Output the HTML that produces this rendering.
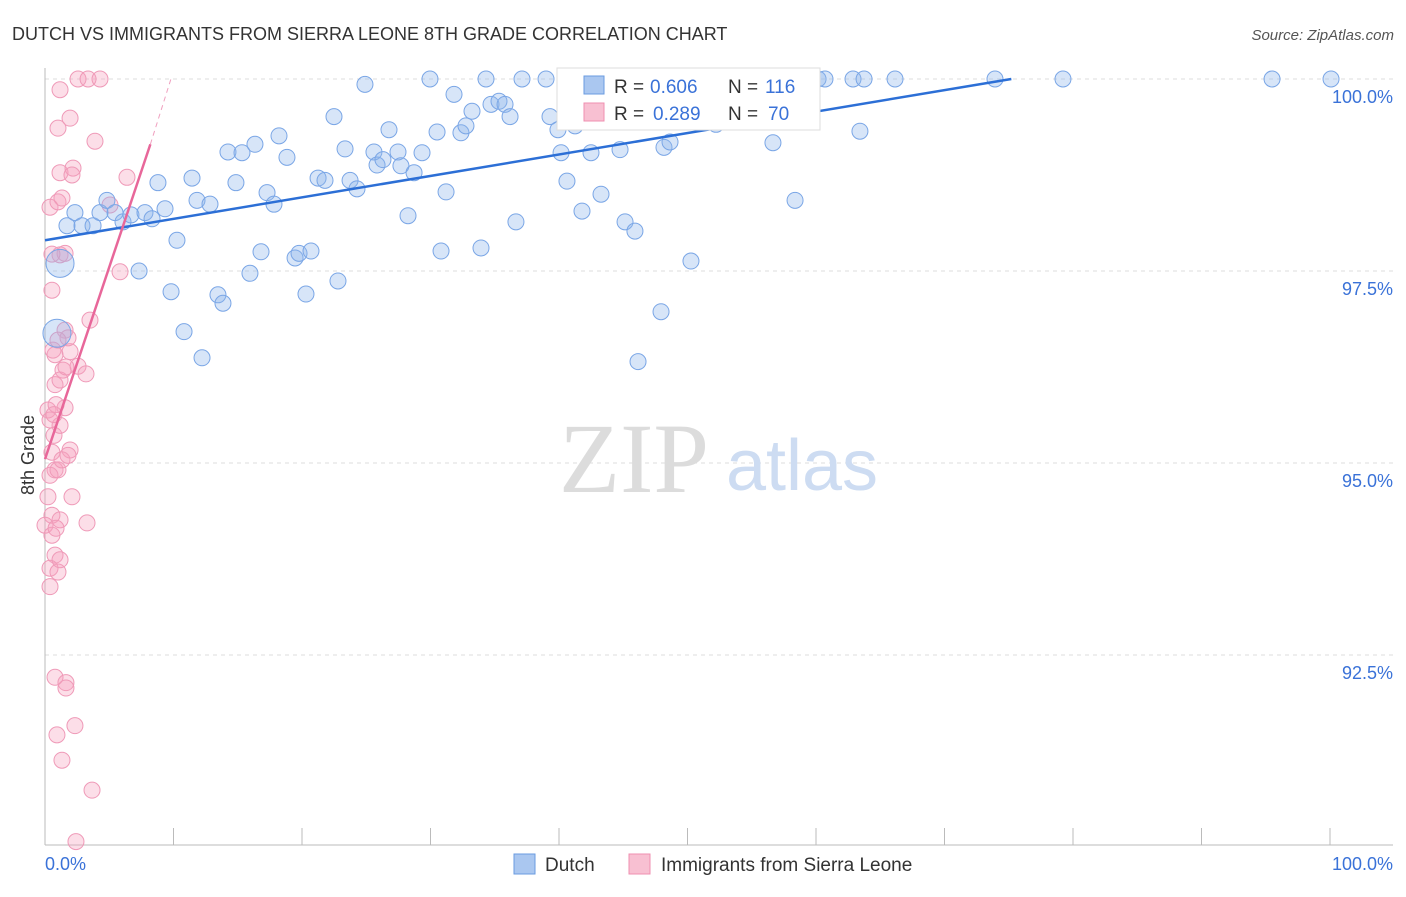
<!DOCTYPE html>
<html><head><meta charset="utf-8">
<style>
body{margin:0;background:#fff;font-family:"Liberation Sans",sans-serif;}
</style></head>
<body>
<svg id="chart" width="1406" height="892" viewBox="0 0 1406 892" xmlns="http://www.w3.org/2000/svg" font-family="Liberation Sans, sans-serif">
<text x="12" y="40" font-size="18" fill="#333">DUTCH VS IMMIGRANTS FROM SIERRA LEONE 8TH GRADE CORRELATION CHART</text>
<text x="1394" y="40" font-size="15" fill="#555" text-anchor="end" font-style="italic">Source: ZipAtlas.com</text>
<g id="grid"></g>
<text x="634" y="492" font-size="100" text-anchor="middle" fill="#dcdcdc" style="font-family:'Liberation Serif',serif">ZIP</text>
<text x="802" y="490" font-size="72" text-anchor="middle" fill="#cddcf2" style="font-family:'Liberation Sans',sans-serif">atlas</text>
<text transform="translate(34,455) rotate(-90)" font-size="18" fill="#333" text-anchor="middle">8th Grade</text>
<g id="pts"></g>
<g id="lines"></g>
<g font-size="19">
<rect x="557" y="68" width="263" height="62" fill="#fff" stroke="#ddd"/>
<rect x="584" y="76" width="20" height="18" fill="#aac7f0" stroke="#6a9be0"/>
<rect x="584" y="103" width="20" height="18" fill="#f8c0d2" stroke="#ef8fb0"/>
<text x="614" y="93" fill="#333">R =</text><text x="650" y="93" fill="#3a72d8">0.606</text>
<text x="728" y="93" fill="#333">N =</text><text x="765" y="93" fill="#3a72d8">116</text>
<text x="614" y="120" fill="#333">R =</text><text x="653" y="120" fill="#3a72d8">0.289</text>
<text x="728" y="120" fill="#333">N =</text><text x="768" y="120" fill="#3a72d8">70</text>
</g>
<g>
<rect x="514" y="854" width="21" height="20" fill="#aac7f0" stroke="#6a9be0"/>
<text x="545" y="871" font-size="19" fill="#333">Dutch</text>
<rect x="629" y="854" width="21" height="20" fill="#f8c0d2" stroke="#ef8fb0"/>
<text x="661" y="871" font-size="19" fill="#333">Immigrants from Sierra Leone</text>
</g>
</svg>
<script>
const yTicks=[100,97.5,95,92.5];
const yTickLabels=["100.0%","97.5%","95.0%","92.5%"];
const xTickLabels=["0.0%","100.0%"];
const blueX=[1.17,0.93,1.71,2.33,2.88,3.74,4.28,4.82,5.45,6.07,6.69,7.32,7.78,8.33,8.79,9.34,9.81,10.27,10.82,11.44,11.83,12.22,12.84,13.46,13.85,14.24,14.86,15.33,15.95,16.34,16.81,17.28,17.82,18.21,18.83,19.46,19.77,20.31,20.70,21.25,21.79,22.49,22.80,23.35,23.74,24.28,24.90,25.60,25.84,26.30,26.77,27.47,27.70,28.25,28.72,29.34,29.96,30.51,30.82,31.21,31.83,32.37,32.76,33.23,33.93,34.32,34.71,35.33,35.80,36.19,36.65,37.12,38.99,39.30,39.92,40.16,40.62,41.25,41.79,42.49,43.27,44.75,45.14,45.91,46.15,47.94,48.17,48.64,50.27,50.58,52.22,52.61,53.39,54.47,56.65,58.37,58.99,60.16,60.70,62.88,63.42,63.74,66.15,73.93,79.22,95.49,100.08];
const blueY=[97.60,96.69,98.09,98.26,98.09,98.09,98.26,98.42,98.26,98.14,98.23,97.50,98.26,98.18,98.65,98.31,97.23,97.90,96.71,98.71,98.42,96.37,98.37,97.19,97.08,99.05,98.65,99.04,97.47,99.15,97.75,98.52,98.37,99.26,98.98,97.67,97.73,97.20,97.76,98.71,98.68,99.51,97.37,99.09,98.68,98.57,99.93,99.05,98.88,98.95,99.34,99.05,98.87,98.22,98.78,99.04,100,99.31,97.76,98.53,99.80,99.30,99.39,99.58,97.80,100,99.67,99.71,99.67,99.51,98.14,100,100,99.51,99.34,99.04,98.67,99.39,98.28,99.04,98.50,99.08,98.14,98.02,96.32,96.97,99.11,99.18,97.63,100,99.41,100,100,100,99.17,98.42,100,100,100,100,99.32,100,100,100,100,100,100];
const blueR=[14,14];
const pinkX=[0.39,0.54,0.62,0.78,0.23,0.39,0.70,0.54,0.78,0.39,0.23,0.54,0,0.54,0.78,0.39,1.01,0.39,0.78,0.93,1.32,1.63,1.63,2.33,3.66,2.41,1.01,1.32,1.17,1.17,1.01,1.95,2.18,2.10,2.57,3.35,4.28,3.89,6.38,5.06,5.84,3.50,1.56,1.40,1.17,1.95,2.57,3.19,1.56,1.17,1.95,2.10,1.17,3.27,1.01,1.63,0.78,1.17,1.56,0.54,1.79,1.01,0.86,0.70,1.32,1.79,0.86,1.17];
const pinkY=[98.33,97.25,96.47,96.02,95.69,95.56,95.36,95.14,94.91,94.84,94.56,94.32,94.19,94.06,93.80,93.63,93.58,93.39,92.21,91.46,91.13,92.14,92.07,91.58,90.74,90.07,98.40,98.45,98.78,99.86,99.36,99.49,98.84,98.75,100,100,100,99.19,98.72,98.36,97.49,96.86,96.73,96.21,96.08,96.45,96.26,96.16,95.72,95.49,95.17,94.56,94.26,94.22,94.91,96.25,96.41,97.71,97.73,97.72,96.63,96.60,95.76,95.63,95.04,95.10,94.15,93.74];
const blueLine=[[0,97.9],[75.2,100]];
const pinkLine=[[0,95.05],[8.2,99.15]];
const pinkDash=[[8.2,99.15],[9.8,100]];

const NS="http://www.w3.org/2000/svg";
const X0=45,X1=1330,Y100=79,PXPER=76.8;
const sx=v=>X0+v/100*(X1-X0);
const sy=v=>Y100+(100-v)*PXPER;
function mk(tag,attrs,parent){const e=document.createElementNS(NS,tag);for(const k in attrs)e.setAttribute(k,attrs[k]);parent.appendChild(e);return e;}
const grid=document.getElementById('grid');
yTicks.forEach((t,i)=>{
  const l=mk('line',{x1:45,x2:1393,y1:sy(t),y2:sy(t),stroke:'#ddd','stroke-dasharray':'4,4'},grid);
  
  
  const tx=mk('text',{x:1393,y:sy(t)+24,'font-size':18,fill:'#3a72d8','text-anchor':'end'},grid);
  tx.textContent=yTickLabels[i];
  
  
});
const ax=mk('line',{x1:45,x2:45,y1:68,y2:845,stroke:'#bbb'},grid);


const bx=mk('line',{x1:45,x2:1393,y1:845,y2:845,stroke:'#bbb'},grid);


for(let i=0;i<=10;i++){
  const tk=mk('line',{x1:sx(i*10),x2:sx(i*10),y1:828,y2:845,stroke:'#bbb'},grid);
  
  
}
[[0,'start',0],[100,'end',63]].forEach((p,i)=>{
  const tx=mk('text',{x:sx(p[0])+p[2],y:870,'font-size':18,fill:'#3a72d8','text-anchor':p[1]},grid);
  tx.textContent=xTickLabels[i];
  
  
});
const pts=document.getElementById('pts');
pinkX.forEach((x,i)=>{
  const c=mk('circle',{cx:sx(x),cy:sy(pinkY[i]),r:8,fill:'rgba(245,160,190,0.35)',stroke:'#ef9ab8','stroke-width':1},pts);
  
  
});
blueX.forEach((x,i)=>{
  const c=mk('circle',{cx:sx(x),cy:sy(blueY[i]),r:blueR[i]||8,fill:'rgba(140,180,235,0.35)',stroke:'#7aa6e6','stroke-width':1},pts);
  
  
});
const lines=document.getElementById('lines');
const bl=mk('line',{x1:sx(blueLine[0][0]),y1:sy(blueLine[0][1]),x2:sx(blueLine[1][0]),y2:sy(blueLine[1][1]),stroke:'#2c6fd6','stroke-width':2.5},lines);


const pl=mk('line',{x1:sx(pinkLine[0][0]),y1:sy(pinkLine[0][1]),x2:sx(pinkLine[1][0]),y2:sy(pinkLine[1][1]),stroke:'#e8679a','stroke-width':2.5},lines);


const pd=mk('line',{x1:sx(pinkDash[0][0]),y1:sy(pinkDash[0][1]),x2:sx(pinkDash[1][0]),y2:sy(pinkDash[1][1]),stroke:'#f0a0bf','stroke-width':1,'stroke-dasharray':'5,4'},lines);


</script>
</body></html>
